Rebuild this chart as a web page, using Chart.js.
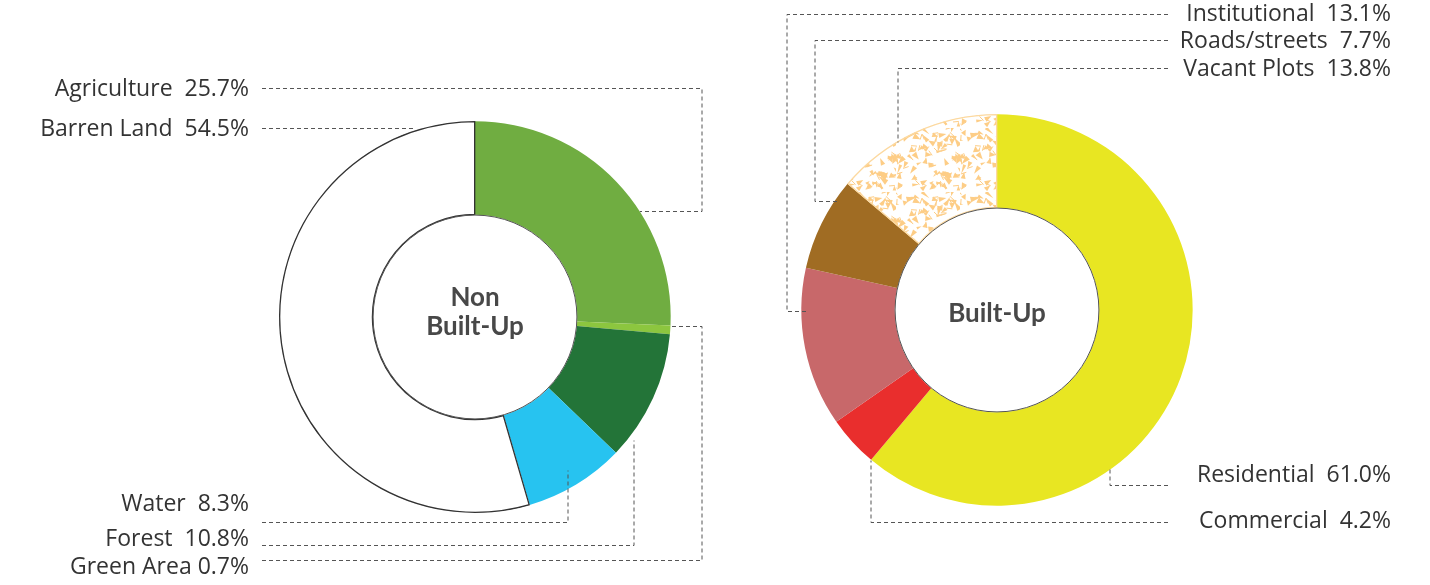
<!DOCTYPE html>
<html>
<head>
<meta charset="utf-8">
<script src="https://cdn.jsdelivr.net/npm/chart.js@4.4.0/dist/chart.umd.min.js"></script>
<style>
  body { margin: 0; background: #fff; }
  #wrap { position: relative; width: 1430px; height: 585px; }
  canvas { position: absolute; left: 0; top: 0; }
</style>
</head>
<body>
<div id="wrap">
  <canvas id="nonBuilt" width="1430" height="585"></canvas>
  <canvas id="builtUp" width="1430" height="585"></canvas>
</div>
<script>
// data
const nonBuiltLabels = ["Agriculture", "Green Area", "Forest", "Water", "Barren Land"];
const nonBuiltValues = [25.7, 0.7, 10.8, 8.3, 54.5];
const builtLabels = ["Residential", "Commercial", "Institutional", "Roads/streets", "Vacant Plots"];
const builtValues = [61.0, 4.2, 13.1, 7.7, 13.8];

// label placement (page pixels), one entry per slice, same order as the data
const nonBuiltLeaders = [
    { textY: 89, gap: "  ", path: [[262, 88], [702, 88], [702, 211], [640, 211]] },
    { textY: 567, gap: " ", path: [[262, 560], [702, 560], [702, 326], [672, 326]] },
    { textY: 539, gap: "  ", path: [[262, 545], [634, 545], [634, 440]] },
    { textY: 504, gap: "  ", path: [[262, 522], [568, 522], [568, 470]] },
    { textY: 129, gap: "  ", path: [[262, 128], [415, 128]] }
];
const builtLeaders = [
    { textY: 475, gap: "  ", path: [[1168, 485], [1110, 485], [1110, 466]] },
    { textY: 521, gap: "  ", path: [[1168, 522], [871, 522], [871, 460]] },
    { textY: 14, gap: "  ", path: [[1168, 14], [787, 14], [787, 311], [806, 311]] },
    { textY: 41, gap: "  ", path: [[1168, 40], [815, 40], [815, 201], [838, 201]] },
    { textY: 69, gap: "  ", path: [[1168, 68], [898, 68], [898, 142]] }
];

// speckled texture for the vacant plots slice
function makeSpeckle() {
    const c = document.createElement("canvas");
    c.width = 64; c.height = 64;
    const g = c.getContext("2d");
    g.fillStyle = "#ffffff";
    g.fillRect(0, 0, 64, 64);
    let seed = 11;
    const rnd = () => { seed = (seed * 16807) % 2147483647; return seed / 2147483647; };
    g.strokeStyle = "#fdcd86";
    g.fillStyle = "#fdcd86";
    g.lineCap = "round";
    g.lineJoin = "round";
    for (let i = 0; i < 80; i++) {
        const x = rnd() * 64, y = rnd() * 64;
        const a = rnd() * Math.PI * 2;
        const len = 4 + rnd() * 6;
        const w = 1 + rnd() * 2.2;
        // small shard: a thin wedge
        g.beginPath();
        g.moveTo(x, y);
        g.lineTo(x + Math.cos(a) * len - Math.sin(a) * w, y + Math.sin(a) * len + Math.cos(a) * w);
        g.lineTo(x + Math.cos(a) * len + Math.sin(a) * w, y + Math.sin(a) * len - Math.cos(a) * w);
        g.closePath();
        g.fill();
        if (rnd() < 0.5) {
            g.lineWidth = 1;
            g.beginPath();
            g.moveTo(x, y);
            const b = a + (rnd() - 0.5) * 3;
            g.lineTo(x + Math.cos(b) * 5, y + Math.sin(b) * 5);
            g.stroke();
        }
    }
    return g.createPattern(c, "repeat");
}

// leader lines, labels, inner ring outline and centre title
const annotate = {
    id: "annotate",
    afterDatasetsDraw(chart, args, opts) {
        const ctx = chart.ctx;
        const arc = chart.getDatasetMeta(0).data[0];
        const p = arc.getProps(["x", "y", "innerRadius"], true);
        ctx.save();
        ctx.beginPath();
        ctx.arc(p.x, p.y, p.innerRadius, 0, Math.PI * 2);
        ctx.strokeStyle = "#555";
        ctx.lineWidth = 1;
        ctx.stroke();

        ctx.setLineDash([4, 3]);
        ctx.strokeStyle = "#555";
        opts.leaders.forEach(l => {
            ctx.beginPath();
            l.path.forEach((pt, i) => i ? ctx.lineTo(pt[0], pt[1] + 0.5) : ctx.moveTo(pt[0], pt[1] + 0.5));
            ctx.stroke();
        });
        ctx.setLineDash([]);

        ctx.font = "23px 'Open Sans'";
        ctx.fillStyle = "#333";
        ctx.textAlign = "right";
        ctx.textBaseline = "middle";
        opts.leaders.forEach((l, i) => {
            const txt = opts.labels[i] + l.gap + opts.values[i].toFixed(1) + "%";
            ctx.fillText(txt, opts.textX, l.textY);
        });

        ctx.font = "bold 26px Lato";
        ctx.fillStyle = "#484848";
        ctx.textAlign = "center";
        const lines = opts.title;
        lines.forEach((t, i) => {
            ctx.fillText(t, p.x, p.y + opts.titleShift + (i - (lines.length - 1) / 2) * 29);
        });
        ctx.restore();
    }
};

function makeDoughnut(id, labels, values, colors, borders, widths, padding, extra) {
    return new Chart(document.getElementById(id), {
        type: "doughnut",
        data: {
            labels: labels,
            datasets: [{
                data: values,
                backgroundColor: colors,
                borderColor: borders,
                borderWidth: widths,
                borderAlign: "inner"
            }]
        },
        options: {
            responsive: false,
            devicePixelRatio: 1,
            animation: false,
            cutout: "52%",
            layout: { padding: padding },
            plugins: {
                legend: { display: false },
                tooltip: { enabled: false },
                annotate: Object.assign({ labels: labels, values: values }, extra)
            }
        },
        plugins: [annotate]
    });
}

makeDoughnut("nonBuilt", nonBuiltLabels, nonBuiltValues,
    ["#70ad41", "#8cc63f", "#237438", "#27c3f0", "#ffffff"],
    ["#70ad41", "#8cc63f", "#237438", "#27c3f0", "#333333"],
    [0, 0, 0, 0, 1],
    { left: 279, right: 1430 - 671, top: 121, bottom: 585 - 513 },
    { leaders: nonBuiltLeaders, textX: 249, title: ["Non", "Built-Up"], titleShift: -5 });

makeDoughnut("builtUp", builtLabels, builtValues,
    ["#e8e622", "#e92e2d", "#c8686a", "#a06c23", makeSpeckle()],
    ["#e8e622", "#e92e2d", "#c8686a", "#a06c23", "#fcd9a0"],
    [0, 0, 0, 0, 1],
    { left: 801, right: 1430 - 1193, top: 114, bottom: 585 - 506 },
    { leaders: builtLeaders, textX: 1391, title: ["Built-Up"], titleShift: 4 });
</script>
</body>
</html>
